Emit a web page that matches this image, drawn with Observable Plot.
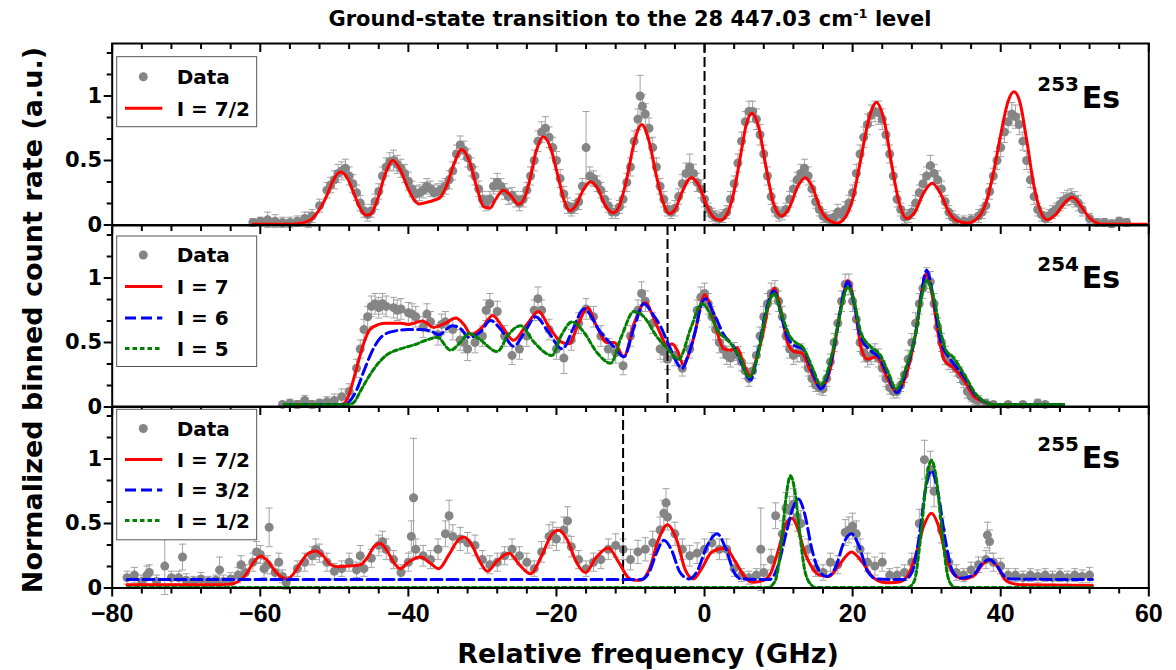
<!DOCTYPE html>
<html>
<head>
<meta charset="utf-8">
<script src="https://cdn.jsdelivr.net/npm/d3@7"></script>
<script src="https://cdn.jsdelivr.net/npm/@observablehq/plot@0.6"></script>
<style>
  html, body { margin: 0; padding: 0; background: #fff; overflow: hidden; }
  #wrap { position: relative; width: 1176px; height: 670px; }
  #wrap > svg { position: absolute; left: 0; }
  #overlay { position: absolute; left: 0; top: 0; pointer-events: none; }
</style>
</head>
<body>
<div id="wrap"></div>
<script>
// ---------- axis ticks / labels ----------
const xMajor = [-80, -60, -40, -20, 0, 20, 40, 60];
const xMinor = [-76, -72, -68, -64, -56, -52, -48, -44, -36, -32, -28, -24, -16, -12, -8, -4,
                4, 8, 12, 16, 24, 28, 32, 36, 44, 48, 52, 56];
const yMajor = [0, 0.5, 1];
const yMinor = [0.1667, 0.3333, 0.6667, 0.8333, 1.1667, 1.3333];
const isotopes = ["253", "254", "255"];
const markerLines = [0, -5, -11];

// ---------- 253Es : data [freq GHz, rate, error] and fit ----------
const data253 = [
[-61,0.02,0.03],[-60,0.03,0.03],[-59,0.04,0.06],[-58,0.03,0.05],[-57,0.02,0.04],[-56,0.02,0.04],[-55,0.03,0.04],[-54,0.05,0.05],[-53.5,0.04,0.06],[-53,0.07,0.05],
[-52,0.15,0.05],[-51,0.27,0.06],[-50.5,0.31,0.06],[-50,0.35,0.07],[-49.5,0.4,0.07],[-49,0.42,0.07],[-48.5,0.44,0.07],[-48,0.38,0.07],[-47.5,0.32,0.07],[-47,0.25,0.06],
[-46.5,0.17,0.06],[-46,0.11,0.05],[-45.5,0.08,0.05],[-45,0.11,0.05],[-44.5,0.18,0.06],[-44,0.26,0.06],[-43.5,0.38,0.07],[-43,0.45,0.07],[-42.5,0.49,0.07],[-42,0.5,0.08],
[-41.5,0.47,0.07],[-41,0.44,0.07],[-40.5,0.4,0.07],[-40,0.34,0.07],[-39.5,0.28,0.06],[-39,0.24,0.06],[-38.5,0.25,0.06],[-38,0.27,0.06],[-37.5,0.3,0.06],[-37,0.28,0.06],
[-36.5,0.25,0.06],[-36,0.26,0.06],[-35.5,0.28,0.06],[-35,0.3,0.06],[-34.5,0.35,0.07],[-34,0.42,0.07],[-33.5,0.55,0.07],[-33,0.62,0.07],[-32.5,0.58,0.07],[-32,0.52,0.07],
[-31.5,0.45,0.07],[-31,0.38,0.07],[-30.5,0.28,0.06],[-30,0.2,0.06],[-29.5,0.17,0.06],[-29,0.2,0.06],[-28.5,0.3,0.06],[-28,0.33,0.07],[-27.5,0.3,0.06],[-27,0.26,0.06],
[-26.5,0.22,0.06],[-26,0.23,0.06],[-25.5,0.2,0.06],[-25,0.17,0.06],[-24.5,0.2,0.06],[-24,0.27,0.06],[-23.5,0.38,0.07],[-23,0.5,0.08],[-22.5,0.65,0.08],[-22,0.72,0.08],
[-21.5,0.75,0.09],[-21,0.68,0.08],[-20.5,0.6,0.08],[-20,0.5,0.07],[-19.5,0.36,0.07],[-19,0.24,0.06],[-18.5,0.15,0.06],[-18,0.12,0.05],[-17.5,0.14,0.05],[-17,0.18,0.06],
[-16.5,0.3,0.06],[-16,0.6,0.28],[-15.5,0.38,0.07],[-15,0.36,0.06],[-14.5,0.32,0.06],[-14,0.27,0.06],[-13.5,0.2,0.06],[-13,0.15,0.05],[-12.5,0.1,0.05],[-12,0.1,0.05],
[-11.5,0.14,0.05],[-11,0.2,0.06],[-10.5,0.33,0.07],[-10,0.45,0.07],[-9.5,0.65,0.08],[-9,0.82,0.08],[-8.7,1.0,0.16],[-8.4,0.92,0.09],[-8,0.86,0.08],[-7.5,0.75,0.08],
[-7,0.6,0.08],[-6.5,0.45,0.07],[-6,0.3,0.06],[-5.5,0.2,0.06],[-5,0.12,0.05],[-4.5,0.1,0.05],[-4,0.13,0.06],[-3.5,0.22,0.06],[-3,0.32,0.07],[-2.5,0.4,0.08],
[-2,0.45,0.1],[-1.5,0.4,0.07],[-1,0.33,0.07],[-0.5,0.28,0.07],[0,0.2,0.06],[0.5,0.12,0.05],[1,0.08,0.05],[1.5,0.06,0.05],[2,0.05,0.05],[2.5,0.07,0.05],
[3,0.1,0.05],[3.5,0.2,0.06],[4,0.32,0.06],[4.5,0.48,0.07],[5,0.65,0.07],[5.5,0.8,0.08],[6,0.88,0.08],[6.5,0.88,0.08],[7,0.82,0.08],[7.5,0.7,0.08],
[8,0.55,0.07],[8.5,0.38,0.07],[9,0.22,0.06],[9.5,0.12,0.05],[10,0.08,0.05],[10.5,0.09,0.05],[11,0.12,0.05],[11.5,0.2,0.06],[12,0.28,0.06],[12.5,0.35,0.06],
[13,0.4,0.07],[13.5,0.44,0.07],[14,0.38,0.07],[14.5,0.28,0.06],[15,0.18,0.05],[15.5,0.12,0.05],[16,0.07,0.05],[16.5,0.05,0.05],[17,0.04,0.04],[17.5,0.06,0.05],
[18,0.1,0.06],[18.5,0.08,0.05],[19,0.12,0.06],[19.5,0.17,0.06],[20,0.25,0.06],[20.5,0.4,0.07],[21,0.55,0.07],[21.5,0.68,0.08],[22,0.78,0.08],[22.5,0.85,0.08],
[23,0.88,0.08],[23.5,0.87,0.09],[24,0.82,0.08],[24.5,0.7,0.08],[25,0.55,0.07],[25.5,0.38,0.07],[26,0.2,0.06],[26.5,0.12,0.05],[27,0.06,0.05],[27.5,0.07,0.05],
[28,0.1,0.05],[28.5,0.17,0.06],[29,0.25,0.06],[29.5,0.32,0.07],[30,0.38,0.07],[30.5,0.46,0.08],[31,0.4,0.07],[31.5,0.35,0.07],[32,0.28,0.06],[32.5,0.18,0.05],
[33,0.1,0.05],[33.5,0.06,0.05],[34,0.04,0.04],[35,0.03,0.04],[36,0.04,0.04],[37,0.07,0.05],[37.5,0.1,0.05],[38,0.15,0.05],[38.5,0.26,0.06],[39,0.38,0.06],
[39.5,0.5,0.07],[40,0.6,0.07],[40.5,0.72,0.08],[41,0.8,0.08],[41.5,0.86,0.09],[42,0.84,0.09],[42.5,0.78,0.08],[43,0.65,0.07],[43.5,0.5,0.07],[44,0.35,0.06],
[44.5,0.22,0.06],[45,0.12,0.05],[45.5,0.08,0.05],[46,0.05,0.05],[46.5,0.07,0.05],[47,0.1,0.05],[47.5,0.12,0.05],[48,0.16,0.05],[48.5,0.19,0.06],[49,0.21,0.06],
[49.5,0.22,0.06],[50,0.2,0.06],[50.5,0.17,0.06],[51,0.12,0.05],[52,0.05,0.04],[53,0.02,0.03],[54,0.02,0.03],[55,0.01,0.03],[56,0.03,0.03],[57,0.02,0.03]
];
const fit253_I7_2 = [
[-61,0.005],[-56,0.005],[-55,0.01],[-54,0.02],[-53,0.05],[-52,0.12],[-51,0.23],[-50.2,0.34],[-49.2,0.41],[-48.2,0.36],[-47.2,0.22],[-46.3,0.11],[-45.6,0.075],[-45,0.09],
[-44.1,0.21],[-43.1,0.4],[-42.1,0.5],[-41.1,0.43],[-40.1,0.29],[-39.3,0.2],[-38.6,0.163],[-37.6,0.175],[-36.6,0.19],[-35.6,0.22],[-34.8,0.31],[-33.8,0.48],[-32.8,0.585],
[-31.8,0.5],[-30.8,0.3],[-29.8,0.14],[-29,0.13],[-28.2,0.2],[-27.2,0.27],[-26.2,0.23],[-25.1,0.16],[-24.4,0.2],[-23.6,0.35],[-22.7,0.58],[-21.8,0.685],[-20.8,0.6],
[-19.8,0.38],[-18.9,0.18],[-18.2,0.11],[-17.4,0.15],[-16.4,0.27],[-15.4,0.336],[-14.4,0.28],[-13.4,0.15],[-12.3,0.094],[-11.5,0.15],[-10.5,0.36],[-9.5,0.64],[-8.5,0.78],
[-7.5,0.65],[-6.5,0.38],[-5.5,0.16],[-4.8,0.088],[-4,0.12],[-3,0.26],[-1.8,0.367],[-0.8,0.31],[0.3,0.15],[1.2,0.06],[2.1,0.036],[3,0.08],[3.9,0.24],[4.9,0.55],
[5.6,0.77],[6.4,0.866],[7.3,0.76],[8.3,0.45],[9.3,0.17],[10.4,0.07],[11.5,0.14],[12.6,0.3],[13.6,0.367],[14.6,0.29],[15.6,0.13],[16.7,0.04],[17.9,0.016],[19,0.06],
[20,0.2],[21,0.48],[22.1,0.8],[23.2,0.95],[24.3,0.8],[25.3,0.46],[26.3,0.17],[27.3,0.05],[28.4,0.1],[29.6,0.25],[30.75,0.323],[31.9,0.24],[33,0.1],[34.2,0.03],
[35.5,0.016],[37,0.06],[38,0.17],[39,0.4],[40,0.7],[41,0.96],[41.8,1.033],[42.6,0.95],[43.5,0.66],[44.5,0.3],[45.5,0.09],[46.3,0.04],[47.4,0.08],[48.6,0.17],
[49.7,0.215],[50.8,0.15],[51.9,0.06],[53,0.015],[54,0.005],[59.7,0.005]
];

// ---------- 254Es ----------
const data254 = [
[-57,0.02,0.02],[-56,0.03,0.03],[-55,0.02,0.03],[-54,0.05,0.04],[-53,0.02,0.03],[-52,0.03,0.03],[-51,0.04,0.04],[-50,0.05,0.05],[-49,0.08,0.06],[-48,0.12,0.06],
[-47,0.3,0.07],[-46.5,0.45,0.07],[-46,0.6,0.08],[-45.5,0.7,0.08],[-45,0.78,0.08],[-44.5,0.8,0.08],[-44,0.77,0.08],[-43.5,0.8,0.08],[-43,0.78,0.08],[-42,0.77,0.08],
[-41.5,0.75,0.08],[-41,0.76,0.08],[-40,0.73,0.08],[-39.5,0.72,0.08],[-39,0.7,0.08],[-38,0.62,0.08],[-37.5,0.72,0.08],[-37,0.66,0.08],[-36,0.56,0.08],[-35.5,0.64,0.08],
[-35,0.66,0.08],[-34,0.6,0.08],[-33,0.52,0.08],[-32.5,0.5,0.08],[-32,0.45,0.09],[-31,0.5,0.08],[-30,0.55,0.08],[-29.5,0.75,0.08],[-29,0.8,0.08],[-28,0.74,0.08],
[-27,0.55,0.08],[-26,0.4,0.07],[-25,0.45,0.08],[-24,0.55,0.08],[-23,0.75,0.08],[-22.5,0.84,0.09],[-22,0.75,0.08],[-21,0.6,0.08],[-20,0.45,0.08],[-19,0.38,0.12],
[-18,0.52,0.08],[-17,0.65,0.08],[-16,0.76,0.08],[-15,0.7,0.08],[-14,0.55,0.08],[-13,0.45,0.08],[-12,0.42,0.08],[-11,0.32,0.07],[-10,0.55,0.08],[-9,0.75,0.08],
[-8.5,0.88,0.09],[-8,0.82,0.08],[-7,0.65,0.08],[-6,0.45,0.08],[-5.5,0.43,0.08],[-5,0.37,0.08],[-4,0.4,0.08],[-3,0.3,0.06],[-2,0.45,0.07],[-1,0.75,0.08],
[-0.5,0.85,0.08],[0,0.88,0.08],[0.5,0.8,0.08],[1,0.7,0.08],[1.5,0.6,0.08],[2,0.5,0.08],[2.5,0.45,0.07],[3,0.4,0.07],[3.5,0.38,0.07],[4,0.43,0.07],
[4.5,0.4,0.07],[5,0.35,0.07],[5.5,0.28,0.06],[6,0.22,0.06],[6.5,0.28,0.06],[7,0.4,0.07],[7.5,0.55,0.07],[8,0.7,0.08],[8.5,0.8,0.08],[9,0.88,0.08],
[9.5,0.9,0.08],[10,0.82,0.08],[10.5,0.7,0.08],[11,0.55,0.08],[11.5,0.45,0.07],[12,0.4,0.07],[12.5,0.42,0.07],[13,0.42,0.07],[13.5,0.38,0.07],[14,0.3,0.06],
[14.5,0.22,0.06],[15,0.17,0.05],[15.5,0.15,0.05],[16,0.14,0.05],[16.5,0.22,0.06],[17,0.35,0.06],[17.5,0.5,0.07],[18,0.65,0.07],[18.5,0.82,0.08],[19,0.95,0.08],
[19.5,0.95,0.08],[20,0.82,0.08],[20.5,0.68,0.08],[21,0.5,0.07],[21.5,0.42,0.07],[22,0.38,0.07],[22.5,0.4,0.07],[23,0.42,0.07],[23.5,0.38,0.07],[24,0.3,0.06],
[24.5,0.22,0.06],[25,0.15,0.05],[25.5,0.12,0.05],[26,0.12,0.05],[26.5,0.17,0.05],[27,0.25,0.06],[27.5,0.37,0.07],[28,0.5,0.07],[28.5,0.65,0.08],[29,0.8,0.08],
[29.5,0.92,0.08],[30,1.0,0.08],[30.5,0.97,0.08],[31,0.8,0.08],[31.5,0.62,0.07],[32,0.5,0.07],[32.5,0.4,0.07],[33,0.35,0.06],[33.5,0.33,0.06],[34,0.3,0.06],
[34.5,0.25,0.06],[35,0.2,0.05],[35.5,0.12,0.05],[36,0.08,0.04],[36.5,0.06,0.04],[37,0.05,0.04],[38,0.03,0.03],[39,0.02,0.02],[41,0.02,0.02],[43,0.02,0.02],
[45,0.03,0.03],[46,0.02,0.02]
];
const fit254_I7 = [
[-56.7,0.02],[-49,0.02],[-48.5,0.04],[-48,0.1],[-47,0.3],[-46,0.5],[-45.2,0.6],[-44,0.64],[-43,0.65],[-41,0.65],[-40,0.64],[-38.1,0.667],[-36.6,0.617],[-35,0.65],
[-33.6,0.69],[-32.5,0.64],[-31.5,0.56],[-30,0.62],[-28.6,0.71],[-27.3,0.62],[-25.8,0.517],[-24,0.64],[-22.4,0.74],[-21,0.62],[-19.2,0.5],[-18.3,0.49],[-17,0.65],
[-15.8,0.77],[-14.6,0.63],[-13.2,0.5],[-12.2,0.5],[-10.9,0.39],[-9.5,0.65],[-8,0.81],[-6.8,0.68],[-5.9,0.56],[-5,0.47],[-4.4,0.49],[-3.6,0.43],[-2.9,0.33],
[-2.2,0.4],[-1.2,0.6],[-0.5,0.8],[0,0.87],[0.8,0.78],[1.7,0.58],[2.6,0.45],[3.5,0.44],[4.4,0.46],[5.3,0.33],[6.2,0.24],[7,0.37],[8,0.6],[8.8,0.83],[9.4,0.92],
[10.3,0.75],[11.2,0.5],[12.1,0.43],[13.1,0.42],[14.3,0.28],[15.7,0.15],[17,0.3],[17.9,0.59],[18.7,0.85],[19.35,0.98],[20.3,0.78],[21.1,0.47],[22,0.37],[23.2,0.39],
[24.7,0.22],[25.9,0.12],[27.5,0.3],[28.6,0.6],[29.3,0.88],[29.9,1.03],[30.8,0.85],[31.6,0.55],[32.4,0.36],[33.5,0.31],[35,0.21],[36.4,0.08],[37.7,0.04],[39,0.02],[48.5,0.02]
];
const fit254_I6 = [
[-56.7,0.02],[-48.5,0.02],[-48,0.04],[-47,0.13],[-46,0.28],[-45,0.42],[-44,0.52],[-42.5,0.58],[-40,0.6],[-38.5,0.6],[-37,0.59],[-35.9,0.56],[-34.1,0.63],[-33,0.61],
[-31.8,0.54],[-30.3,0.58],[-28.9,0.67],[-27.5,0.6],[-25.8,0.47],[-24.3,0.58],[-22.8,0.7],[-21.3,0.6],[-19.2,0.45],[-17.8,0.6],[-16.3,0.76],[-14.05,0.58],[-12.3,0.47],
[-10.9,0.39],[-9.5,0.62],[-8.2,0.8],[-7,0.72],[-5.9,0.62],[-4.9,0.49],[-3,0.3],[-2.2,0.4],[-1.2,0.6],[-0.4,0.8],[0.1,0.84],[1.3,0.72],[2.6,0.56],[3.9,0.47],
[5,0.34],[6.2,0.21],[7.2,0.42],[8.2,0.72],[9.4,0.9],[10.4,0.7],[11.2,0.54],[12.06,0.48],[13.3,0.45],[14.6,0.27],[15.7,0.14],[17,0.33],[17.9,0.6],[18.7,0.86],
[19.35,0.97],[20.2,0.8],[21.1,0.54],[22.4,0.44],[23.75,0.37],[24.8,0.24],[26,0.11],[27.3,0.3],[28.6,0.6],[29.3,0.88],[30,1.06],[30.9,0.85],[31.9,0.51],[33.2,0.37],
[35,0.24],[36.8,0.08],[38.2,0.03],[39,0.02],[48.5,0.02]
];
const fit254_I5 = [
[-56.7,0.02],[-48,0.02],[-47.3,0.04],[-46.5,0.12],[-45.5,0.22],[-44.2,0.33],[-43,0.4],[-41.1,0.45],[-39.3,0.48],[-37.5,0.52],[-36.1,0.54],[-34.3,0.44],[-33,0.5],
[-31.8,0.57],[-30.5,0.53],[-28,0.43],[-26.5,0.56],[-24.85,0.63],[-23,0.5],[-20.6,0.4],[-19.3,0.56],[-17.9,0.66],[-16.3,0.58],[-14.5,0.42],[-12.7,0.34],[-11.2,0.55],
[-9.55,0.74],[-8.2,0.7],[-6.5,0.55],[-5,0.45],[-3.5,0.37],[-1.8,0.62],[-0.4,0.8],[0.6,0.74],[1.7,0.6],[3.4,0.5],[4.9,0.37],[6,0.23],[7.2,0.4],[8.2,0.7],[9.4,0.88],
[10.4,0.72],[11.5,0.55],[12.3,0.5],[13.3,0.46],[14.6,0.3],[15.7,0.17],[17,0.36],[17.9,0.6],[18.7,0.83],[19.35,0.93],[20.2,0.82],[21.1,0.58],[22.4,0.47],[23.75,0.4],
[24.8,0.27],[25.9,0.14],[27.3,0.32],[28.6,0.6],[29.3,0.85],[30,0.98],[30.9,0.86],[31.9,0.58],[32.6,0.44],[33.5,0.39],[35,0.26],[36.8,0.09],[38.2,0.03],[39,0.02],[48.5,0.02]
];

// ---------- 255Es ----------
const data255 = [
[-78,0.08,0.05],[-77,0.1,0.06],[-76,0.05,0.05],[-75.3,0.1,0.07],[-75,0.12,0.06],[-74,0.05,0.05],[-72.9,0.17,0.22],[-72,0.08,0.05],[-71,0.08,0.05],[-70.5,0.24,0.1],
[-70,0.06,0.05],[-69,0.05,0.04],[-68,0.07,0.05],[-67,0.05,0.04],[-66,0.06,0.04],[-65.5,0.14,0.1],[-65,0.05,0.05],[-64,0.07,0.05],[-63,0.1,0.06],[-62.6,0.18,0.07],
[-62,0.12,0.06],[-61,0.2,0.07],[-60.5,0.28,0.08],[-60,0.26,0.07],[-59.5,0.15,0.07],[-59,0.18,0.07],[-58.8,0.47,0.15],[-58,0.12,0.06],[-57.5,0.2,0.07],[-57,0.09,0.05],
[-56.5,0.04,0.05],[-55,0.15,0.06],[-54,0.2,0.07],[-53,0.25,0.07],[-52.5,0.3,0.08],[-52,0.27,0.07],[-51,0.2,0.07],[-50,0.13,0.06],[-49,0.15,0.06],[-48,0.2,0.07],
[-47,0.14,0.06],[-46.5,0.25,0.08],[-46,0.15,0.06],[-45,0.23,0.07],[-44,0.33,0.08],[-43.5,0.36,0.08],[-43,0.3,0.08],[-42,0.22,0.07],[-41,0.12,0.06],[-40,0.2,0.07],
[-39.6,0.4,0.12],[-39.3,0.7,0.46],[-39,0.3,0.08],[-38,0.25,0.08],[-37,0.22,0.07],[-36,0.3,0.08],[-35,0.42,0.1],[-34.5,0.56,0.12],[-34,0.4,0.09],[-33,0.38,0.09],
[-32,0.35,0.08],[-31,0.33,0.08],[-30,0.22,0.07],[-29,0.18,0.07],[-28,0.2,0.07],[-27,0.25,0.07],[-26,0.3,0.08],[-25,0.25,0.07],[-24,0.2,0.07],[-23,0.15,0.06],
[-22,0.28,0.08],[-21,0.4,0.09],[-20.5,0.42,0.09],[-20,0.38,0.09],[-19,0.45,0.1],[-18.5,0.52,0.11],[-18,0.32,0.08],[-17,0.22,0.07],[-16,0.15,0.06],[-15,0.2,0.07],
[-14,0.22,0.07],[-13,0.3,0.08],[-12,0.33,0.09],[-11,0.3,0.08],[-10,0.22,0.08],[-9,0.28,0.09],[-8,0.3,0.09],[-7,0.35,0.09],[-6,0.45,0.1],[-5.5,0.58,0.1],
[-5.2,0.66,0.11],[-5,0.55,0.1],[-4,0.42,0.09],[-3,0.3,0.08],[-2,0.25,0.08],[-1,0.27,0.08],[0,0.3,0.08],[1,0.35,0.08],[2,0.3,0.08],[3,0.3,0.08],
[4,0.15,0.06],[5,0.1,0.05],[6,0.08,0.05],[7,0.1,0.05],[7.6,0.3,0.32],[8,0.12,0.06],[9,0.22,0.08],[9.6,0.56,0.1],[10.5,0.42,0.1],[11,0.62,0.12],
[11.5,0.6,0.11],[12,0.65,0.12],[12.5,0.55,0.11],[13,0.5,0.1],[14,0.3,0.08],[15,0.15,0.06],[16,0.12,0.06],[17,0.2,0.07],[18,0.18,0.07],[19,0.43,0.1],
[19.5,0.45,0.1],[20,0.48,0.1],[20.5,0.42,0.1],[21,0.3,0.08],[22,0.2,0.07],[23,0.17,0.07],[24,0.2,0.07],[25,0.1,0.05],[26,0.1,0.06],[27,0.12,0.06],
[28,0.2,0.07],[29,0.5,0.11],[29.7,0.995,0.15],[30.5,0.92,0.14],[31,0.75,0.12],[32,0.45,0.1],[33,0.2,0.07],[34,0.12,0.06],[35,0.1,0.05],[36,0.14,0.06],
[37,0.18,0.06],[38,0.22,0.07],[38.2,0.41,0.1],[38.5,0.36,0.09],[39,0.2,0.07],[40,0.17,0.06],[41,0.1,0.05],[42,0.1,0.05],[43,0.08,0.05],[44,0.1,0.05],
[45,0.09,0.05],[46,0.1,0.05],[47,0.08,0.05],[48,0.1,0.05],[49,0.08,0.05],[50,0.1,0.05],[51,0.09,0.05],[52,0.1,0.06]
];
const fit255_I7_2 = [
[-78,0.025],[-66,0.025],[-64,0.03],[-63,0.05],[-62,0.1],[-61,0.19],[-60,0.246],[-59,0.21],[-58,0.13],[-57,0.08],[-56.4,0.07],[-55.5,0.11],[-54.5,0.2],[-53.5,0.27],
[-52.5,0.287],[-51.5,0.25],[-50.5,0.18],[-49.5,0.165],[-48,0.17],[-46.5,0.18],[-45.5,0.24],[-44.5,0.33],[-43.8,0.344],[-43,0.3],[-42,0.2],[-41.1,0.15],[-40,0.2],
[-38.4,0.24],[-37,0.19],[-35.9,0.15],[-34.5,0.26],[-33.3,0.37],[-32.5,0.395],[-31.5,0.34],[-30.3,0.2],[-29.35,0.13],[-28,0.21],[-26.4,0.27],[-25,0.18],[-23.5,0.11],
[-22,0.25],[-20.7,0.41],[-19.7,0.447],[-18.6,0.38],[-17.3,0.2],[-16.1,0.12],[-14.6,0.24],[-13,0.31],[-11.6,0.2],[-10.3,0.08],[-9.5,0.06],[-8.6,0.06],[-7.5,0.14],
[-6.2,0.38],[-5,0.49],[-3.8,0.38],[-2.6,0.14],[-1.5,0.07],[-0.5,0.14],[1,0.28],[2.8,0.31],[4.2,0.2],[5.5,0.08],[6.6,0.045],[8,0.06],[8.9,0.11],[10,0.3],[11,0.5],
[11.8,0.54],[12.6,0.46],[13.5,0.28],[14.3,0.18],[15.5,0.1],[16.8,0.09],[18.2,0.18],[19.85,0.28],[21.3,0.2],[22.8,0.08],[24,0.045],[25.1,0.04],[26.5,0.05],[27.5,0.1],
[28.5,0.25],[29.6,0.48],[30.65,0.58],[31.6,0.48],[32.6,0.25],[33.6,0.11],[35,0.07],[36.5,0.1],[37.5,0.18],[38.5,0.215],[39.5,0.17],[40.5,0.07],[41.3,0.04],[43,0.025],[52.4,0.02]
];
const fit255_I3_2 = [
[-78,0.065],[-8.6,0.065],[-7.5,0.12],[-6.5,0.27],[-5.5,0.37],[-4.5,0.3],[-3.3,0.12],[-2.1,0.07],[-1,0.13],[0.3,0.32],[1.7,0.42],[2.9,0.3],[4,0.12],[4.9,0.07],
[8.75,0.065],[9.8,0.15],[11,0.42],[12,0.63],[12.7,0.69],[13.5,0.58],[14.5,0.3],[15.5,0.13],[16.5,0.09],[17.7,0.16],[18.8,0.35],[19.85,0.42],[20.9,0.32],[22,0.13],
[23.3,0.07],[27,0.065],[28,0.12],[29,0.4],[29.8,0.75],[30.65,0.91],[31.5,0.75],[32.5,0.38],[33.5,0.13],[34.5,0.075],[36.3,0.1],[37.5,0.19],[38.5,0.22],[39.5,0.17],
[40.5,0.09],[41.3,0.07],[52.4,0.065]
];
const fit255_I1_2 = [
[-78,0.003],[8.5,0.003],[9.5,0.05],[10.3,0.3],[11,0.7],[11.6,0.87],[12.2,0.75],[12.9,0.4],[13.6,0.12],[14.5,0.02],[15,0.003],[27.4,0.003],[28.3,0.05],[29.2,0.4],
[30,0.85],[30.65,0.99],[31.3,0.85],[32.1,0.42],[32.9,0.08],[33.6,0.01],[34,0.003],[52.4,0.003]
];

// ---------- series styles ----------
const RED = "#ff0000", BLUE = "#0000ff", GREEN = "#008000";
const panels = [
  {data: data253, fits: [{d: fit253_I7_2, c: RED, dash: null, label: "I = 7/2"}]},
  {data: data254, fits: [
     {d: fit254_I7, c: RED, dash: null, label: "I = 7"},
     {d: fit254_I6, c: BLUE, dash: "11,5", label: "I = 6"},
     {d: fit254_I5, c: GREEN, dash: "4.5,3", label: "I = 5"}]},
  {data: data255, fits: [
     {d: fit255_I7_2, c: RED, dash: null, label: "I = 7/2"},
     {d: fit255_I3_2, c: BLUE, dash: "11,5", label: "I = 3/2"},
     {d: fit255_I1_2, c: GREEN, dash: "4.5,3", label: "I = 1/2"}]}
];

// ---------- layout ----------
const W = 1176, ML = 111.7, MR = 27.7, PH = 181.5, PAD = 14;
const frameTops = [43.3, 224.8, 406.3];
const YMAX = PH / 129;
const FONT = "DejaVu Sans";
const capSymbol = {draw(ctx, size) { const w = Math.sqrt(size / Math.PI); ctx.moveTo(-w, 0); ctx.lineTo(w, 0); }};
const fmtY = d => (d === 0.5 ? "0.5" : String(d));
const fmtX = d => (d < 0 ? "\u2212" + (-d) : String(d));
const wrap = document.getElementById("wrap");

panels.forEach((p, i) => {
  const bottom = i === 2;
  const mb = bottom ? 60 : PAD;
  const marks = [
    Plot.ruleX(p.data, {x: d => d[0], y1: d => d[1] - d[2], y2: d => d[1] + d[2], stroke: "#a3a3a3", strokeWidth: 1}),
    Plot.dot(p.data, {x: d => d[0], y: d => d[1] + d[2], symbol: capSymbol, r: 3.5, stroke: "#a3a3a3", strokeWidth: 1}),
    Plot.dot(p.data, {x: d => d[0], y: d => d[1] - d[2], symbol: capSymbol, r: 3.5, stroke: "#a3a3a3", strokeWidth: 1}),
    Plot.dot(p.data, {x: d => d[0], y: d => d[1], r: 4.5, fill: "#858585"}),
    Plot.ruleX([markerLines[i]], {x: d => d, stroke: "#000", strokeWidth: 2, strokeDasharray: "10,4"}),
    ...p.fits.map(f => Plot.line(f.d, {x: d => d[0], y: d => d[1], stroke: f.c, strokeWidth: 3,
        strokeDasharray: f.dash, curve: "monotone-x"})),
    Plot.frame({stroke: "#000", strokeWidth: 2}),
    Plot.axisY({ticks: yMajor, tickSize: 8, tickPadding: 2, tickFormat: fmtY, fontSize: 21,
        fontFamily: FONT, fontWeight: "bold", strokeWidth: 2, label: null, fill: "#000"}),
    Plot.axisY({ticks: yMinor, tickSize: 5, tickFormat: () => "", strokeWidth: 2, label: null}),
    // inward ticks along the top edge of every panel
    Plot.tickX(xMajor, {x: d => d, insetBottom: PH - 9, stroke: "#000", strokeWidth: 2}),
    Plot.tickX(xMinor, {x: d => d, insetBottom: PH - 6, stroke: "#000", strokeWidth: 2})
  ];
  if (bottom) {
    marks.push(
      Plot.axisX({anchor: "bottom", ticks: xMajor, tickSize: 9, tickPadding: 7, tickFormat: fmtX, fontSize: 25,
          fontFamily: "Liberation Sans", fontWeight: "bold", strokeWidth: 2, label: null, fill: "#000"}),
      Plot.axisX({anchor: "bottom", ticks: xMinor, tickSize: 6, tickFormat: () => "", strokeWidth: 2, label: null})
    );
  }
  const svg = Plot.plot({
    width: W, height: PAD + PH + mb,
    marginLeft: ML, marginRight: MR, marginTop: PAD, marginBottom: mb,
    style: {background: "transparent", overflow: "visible", color: "#000"},
    x: {domain: [-80, 60], axis: null},
    y: {domain: [0, YMAX], axis: null},
    marks
  });
  svg.style.top = (frameTops[i] - PAD) + "px";
  svg.style.position = "absolute";
  wrap.appendChild(svg);
});

// ---------- overlay: titles, legends, isotope labels ----------
const ov = d3.select(wrap).append("svg").attr("id", "overlay").attr("width", W).attr("height", 670)
  .style("font-family", FONT).style("font-weight", "bold");

const title = ov.append("text").attr("x", 630).attr("y", 26).attr("text-anchor", "middle").attr("font-size", 21);
title.append("tspan").text("Ground-state transition to the 28 447.03 cm");
title.append("tspan").attr("font-size", 13).attr("dy", -8).text("-1");
title.append("tspan").attr("dy", 8).text(" level");

ov.append("text").attr("transform", "translate(42,320) rotate(-90)").attr("text-anchor", "middle")
  .attr("font-size", 27).text("Normalized binned count rate (a.u.)");
ov.append("text").attr("x", 648).attr("y", 663).attr("text-anchor", "middle")
  .attr("font-size", 27).text("Relative frequency (GHz)");

const legends = [
  {top: 56.7, h: 70, rows: [76.7, 108.3]},
  {top: 236, h: 130.5, rows: [255, 286.5, 318, 348.5]},
  {top: 409.3, h: 130.5, rows: [428.5, 459.5, 490, 520.5]}
];
const isoBase = [108.3, 288.3, 468.3];
panels.forEach((p, i) => {
  const L = legends[i];
  const g = ov.append("g");
  g.append("rect").attr("x", 116.7).attr("y", L.top).attr("width", 140).attr("height", L.h)
    .attr("fill", "#fff").attr("stroke", "#555").attr("stroke-width", 1);
  g.append("circle").attr("cx", 143.3).attr("cy", L.rows[0]).attr("r", 4.5).attr("fill", "#858585");
  g.append("text").attr("x", 176.7).attr("y", L.rows[0]).attr("dy", "0.36em").attr("font-size", 20).text("Data");
  p.fits.forEach((f, k) => {
    const y = L.rows[k + 1];
    g.append("line").attr("x1", 125).attr("x2", 162.3).attr("y1", y).attr("y2", y)
      .attr("stroke", f.c).attr("stroke-width", 3).attr("stroke-dasharray", f.dash);
    g.append("text").attr("x", 176.7).attr("y", y).attr("dy", "0.36em").attr("font-size", 20).text(f.label);
  });
  ov.append("text").attr("x", 1120).attr("y", isoBase[i]).attr("text-anchor", "end").attr("font-size", 30).text("Es");
  ov.append("text").attr("x", 1079).attr("y", isoBase[i] - 17).attr("text-anchor", "end").attr("font-size", 20).text(isotopes[i]);
});
</script>
</body>
</html>
